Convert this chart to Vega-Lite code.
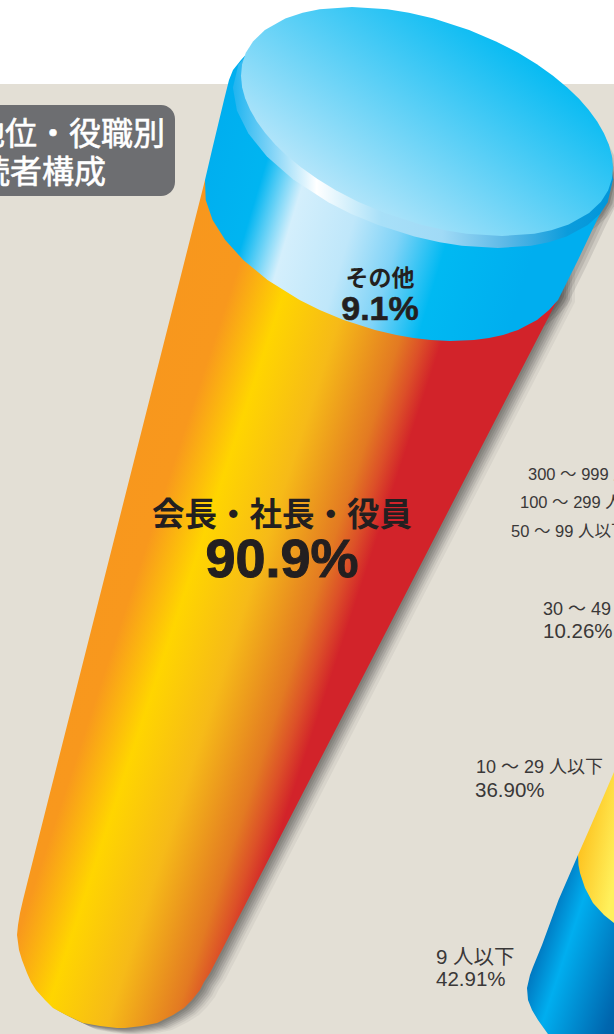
{
"$schema":"https://vega.github.io/schema/vega-lite/v6.json",
"width":614,"height":1034,"padding":0,"autosize":"none","background":"#ffffff",
"config":{"view":{"stroke":null}},
"datasets":{
"ground":[{"x":0,"x2":614,"y":84,"y2":1034}],
"titlebox":[{"x":-30,"x2":175,"y":105,"y2":196}],
"body":[{"y":180,"x":205,"x2":560},{"y":295,"x":176,"x2":560},{"y":400,"x":149.4,"x2":505.7},{"y":600,"x":98.8,"x2":402.5},{"y":800,"x":48.2,"x2":299.3},{"y":880,"x":28,"x2":258},{"y":900,"x":23,"x2":247.7},{"y":913,"x":20,"x2":241},{"y":925,"x":18,"x2":234.8},{"y":935,"x":17,"x2":229.6},{"y":950,"x":19,"x2":222},{"y":960,"x":22,"x2":216.7},{"y":973,"x":27,"x2":210},{"y":982,"x":31,"x2":204},{"y":990,"x":36,"x2":200},{"y":1000,"x":45,"x2":192},{"y":1008,"x":53,"x2":184},{"y":1015,"x":66,"x2":173},{"y":1023,"x":83,"x2":157},{"y":1026,"x":100,"x2":142},{"y":1028,"x":117,"x2":125}],
"band":[{"y":50,"x":250,"x2":480},{"y":60,"x":241,"x2":490},{"y":70,"x":233,"x2":500},{"y":80,"x":229,"x2":530},{"y":100,"x":224,"x2":560},{"y":150,"x":212,"x2":600},{"y":180,"x":205,"x2":612},{"y":200,"x":205.7,"x2":607},{"y":220,"x":212.6,"x2":597},{"y":240,"x":225.2,"x2":587.5},{"y":260,"x":243.3,"x2":578},{"y":280,"x":267.5,"x2":568},{"y":300,"x":299.6,"x2":558},{"y":310,"x":319.7,"x2":549},{"y":320,"x":343.7,"x2":537},{"y":330,"x":375,"x2":518},{"y":335,"x":396.4,"x2":503},{"y":338,"x":413.4,"x2":489},{"y":340,"x":430.9,"x2":474},{"y":341,"x":450,"x2":450}],
"rim":[{"y":19,"x":348,"x2":348},{"y":30.5,"x":279.4,"x2":431.6},{"y":41.9,"x":258.2,"x2":467.8},{"y":64.8,"x":238.3,"x2":517.7},{"y":87.7,"x":232.9,"x2":553.1},{"y":110.6,"x":236.9,"x2":579.1},{"y":133.5,"x":248.4,"x2":597.6},{"y":156.4,"x":266.9,"x2":609.1},{"y":179.3,"x":292.9,"x2":613.1},{"y":202.2,"x":328.3,"x2":607.7},{"y":213.7,"x":350.8,"x2":600.2},{"y":225.1,"x":378.2,"x2":587.8},{"y":236.6,"x":414.4,"x2":566.6},{"y":242.3,"x":439.8,"x2":548.8},{"y":245.7,"x":461.8,"x2":531.2},{"y":248,"x":498,"x2":498}],
"disc":[{"y":7,"x":352,"x2":352},{"y":9.3,"x":319.6,"x2":387.4},{"y":12.7,"x":302.7,"x2":408.9},{"y":18.5,"x":285.3,"x2":433.7},{"y":29.9,"x":264.9,"x2":469.1},{"y":41.4,"x":253,"x2":496},{"y":52.8,"x":245.8,"x2":518.2},{"y":64.3,"x":242.1,"x2":536.9},{"y":75.7,"x":241,"x2":553},{"y":87.2,"x":242.1,"x2":566.9},{"y":98.6,"x":245.2,"x2":578.8},{"y":110.1,"x":250.2,"x2":588.8},{"y":121.5,"x":256.8,"x2":597.2},{"y":133,"x":265.2,"x2":603.8},{"y":144.4,"x":275.2,"x2":608.8},{"y":155.9,"x":287.1,"x2":611.9},{"y":167.3,"x":301,"x2":613},{"y":178.8,"x":317.1,"x2":611.9},{"y":190.2,"x":335.8,"x2":608.2},{"y":201.7,"x":358,"x2":601},{"y":213.1,"x":384.9,"x2":589.1},{"y":224.6,"x":420.3,"x2":568.7},{"y":230.3,"x":445.2,"x2":551.3},{"y":233.7,"x":466.6,"x2":534.4},{"y":236,"x":502,"x2":502}],
"blue":[{"y":855,"x":578,"x2":614},{"y":900,"x":558.5,"x2":614},{"y":945,"x":542,"x2":614},{"y":967,"x":533,"x2":614},{"y":975,"x":530,"x2":614},{"y":988,"x":527,"x2":614},{"y":1000,"x":528,"x2":614},{"y":1010,"x":532,"x2":614},{"y":1020,"x":538,"x2":614},{"y":1034,"x":548,"x2":614}],
"yellow":[{"y":772,"x":614,"x2":614},{"y":800,"x":602,"x2":614},{"y":830,"x":589,"x2":614},{"y":855,"x":578,"x2":614},{"y":865,"x":578.5,"x2":614},{"y":873,"x":580,"x2":614},{"y":888,"x":585,"x2":614},{"y":903,"x":593,"x2":614},{"y":915,"x":604,"x2":614},{"y":923,"x":614,"x2":614}],
"title1":[{"t":"地位・役職別","x":165,"y":145}],
"title2":[{"t":"読者構成","x":106,"y":183}],
"other":[{"t":"その他","x":380,"y":286}],
"otherPct":[{"t":"9.1%","x":380,"y":320}],
"exec":[{"t":"会長・社長・役員","x":282,"y":526}],
"execPct":[{"t":"90.9%","x":282,"y":577}],
"narrow":[{"t":"300 ～ 999 人以下","x":528,"y":480},{"t":"100 ～ 299 人以下","x":520,"y":508},{"t":"50 ～ 99 人以下","x":511,"y":537}],
"counts":[{"t":"30 ～ 49 人以下","x":543,"y":615},{"t":"10 ～ 29 人以下","x":476,"y":773}],
"plain":[{"t":"10.26%","x":543,"y":638},{"t":"36.90%","x":475,"y":797},{"t":"9 人以下","x":436,"y":964},{"t":"42.91%","x":436,"y":986}]
},
"encoding":{
"x":{"field":"x","type":"quantitative","axis":null,"scale":{"domain":[0,614],"nice":false,"zero":false}},
"y":{"field":"y","type":"quantitative","axis":null,"scale":{"domain":[1034,0],"nice":false,"zero":false}}
},
"layer":[
{"data":{"name":"ground"},"mark":{"type":"rect","color":"#E3DFD5","clip":true},"encoding":{"x2":{"field":"x2"},"y2":{"field":"y2"}}},
{"data":{"name":"rim"},"mark":{"type":"area","orient":"horizontal","color":"#333333","opacity":0.12,"xOffset":2,"x2Offset":2,"yOffset":1,"clip":true},"encoding":{"x2":{"field":"x2"}}},
{"data":{"name":"rim"},"mark":{"type":"area","orient":"horizontal","color":"#333333","opacity":0.12,"xOffset":4,"x2Offset":4,"yOffset":2,"clip":true},"encoding":{"x2":{"field":"x2"}}},
{"data":{"name":"rim"},"mark":{"type":"area","orient":"horizontal","color":"#333333","opacity":0.12,"xOffset":7,"x2Offset":7,"yOffset":3,"clip":true},"encoding":{"x2":{"field":"x2"}}},
{"data":{"name":"band"},"mark":{"type":"area","orient":"horizontal","color":"#333333","opacity":0.12,"xOffset":3,"x2Offset":3,"yOffset":2,"clip":true},"encoding":{"x2":{"field":"x2"}}},
{"data":{"name":"band"},"mark":{"type":"area","orient":"horizontal","color":"#333333","opacity":0.12,"xOffset":6,"x2Offset":6,"yOffset":3,"clip":true},"encoding":{"x2":{"field":"x2"}}},
{"data":{"name":"band"},"mark":{"type":"area","orient":"horizontal","color":"#333333","opacity":0.12,"xOffset":9,"x2Offset":9,"yOffset":5,"clip":true},"encoding":{"x2":{"field":"x2"}}},
{"data":{"name":"body"},"mark":{"type":"area","orient":"horizontal","color":"#333333","opacity":0.13,"xOffset":2,"x2Offset":2,"yOffset":1,"clip":true},"encoding":{"x2":{"field":"x2"}}},
{"data":{"name":"body"},"mark":{"type":"area","orient":"horizontal","color":"#333333","opacity":0.13,"xOffset":4,"x2Offset":4,"yOffset":2,"clip":true},"encoding":{"x2":{"field":"x2"}}},
{"data":{"name":"body"},"mark":{"type":"area","orient":"horizontal","color":"#333333","opacity":0.13,"xOffset":6,"x2Offset":6,"yOffset":3,"clip":true},"encoding":{"x2":{"field":"x2"}}},
{"data":{"name":"body"},"mark":{"type":"area","orient":"horizontal","color":"#333333","opacity":0.12,"xOffset":8,"x2Offset":8,"yOffset":4,"clip":true},"encoding":{"x2":{"field":"x2"}}},
{"data":{"name":"body"},"mark":{"type":"area","orient":"horizontal","color":"#333333","opacity":0.1,"xOffset":10,"x2Offset":10,"yOffset":5,"clip":true},"encoding":{"x2":{"field":"x2"}}},
{"data":{"name":"body"},"mark":{"type":"area","orient":"horizontal","color":"#333333","opacity":0.08,"xOffset":12,"x2Offset":12,"yOffset":6,"clip":true},"encoding":{"x2":{"field":"x2"}}},
{"data":{"name":"body"},"mark":{"type":"area","orient":"horizontal","color":"#333333","opacity":0.06,"xOffset":15,"x2Offset":15,"yOffset":7,"clip":true},"encoding":{"x2":{"field":"x2"}}},
{"data":{"name":"body"},"mark":{"type":"area","orient":"horizontal","clip":true,"color":{"gradient":"linear","x1":0,"y1":0,"x2":0.79,"y2":0.407,"stops":[{"offset":0,"color":"#F7941D"},{"offset":0.46,"color":"#F8981D"},{"offset":0.56,"color":"#FFD500"},{"offset":0.679,"color":"#F6BA18"},{"offset":0.802,"color":"#E37A22"},{"offset":0.843,"color":"#DC5028"},{"offset":0.881,"color":"#D2232A"},{"offset":1,"color":"#D2232A"}]}},"encoding":{"x2":{"field":"x2"}}},
{"data":{"name":"band"},"mark":{"type":"area","orient":"horizontal","clip":true,"color":{"gradient":"linear","x1":0,"y1":0,"x2":0.956,"y2":0.2055,"stops":[{"offset":0.074,"color":"#00AEEF"},{"offset":0.233,"color":"#00B5F1"},{"offset":0.339,"color":"#D4EFFC"},{"offset":0.491,"color":"#BFE7FA"},{"offset":0.613,"color":"#7FD3F7"},{"offset":0.736,"color":"#00B9F2"},{"offset":0.956,"color":"#00AEEF"}]}},"encoding":{"x2":{"field":"x2"}}},
{"data":{"name":"rim"},"mark":{"type":"area","orient":"horizontal","clip":true,"color":{"gradient":"linear","x1":0,"y1":0,"x2":1,"y2":0,"stops":[{"offset":0,"color":"#1EB4F0"},{"offset":0.1,"color":"#7FD3F7"},{"offset":0.22,"color":"#FFFFFF"},{"offset":0.39,"color":"#A8E0F8"},{"offset":0.55,"color":"#A0DAF6"},{"offset":0.72,"color":"#5BB8E6"},{"offset":0.88,"color":"#0B9CDC"},{"offset":1,"color":"#0095D9"}]}},"encoding":{"x2":{"field":"x2"}}},
{"data":{"name":"disc"},"mark":{"type":"area","orient":"horizontal","clip":true,"color":{"gradient":"linear","x1":0.8,"y1":0.2,"x2":0.1,"y2":0.8,"stops":[{"offset":0,"color":"#00B9F2"},{"offset":1,"color":"#CBEBFB"}]}},"encoding":{"x2":{"field":"x2"}}},
{"data":{"name":"blue"},"mark":{"type":"area","orient":"horizontal","color":"#333333","opacity":0.15,"xOffset":2,"x2Offset":2,"yOffset":3,"clip":true},"encoding":{"x2":{"field":"x2"}}},
{"data":{"name":"blue"},"mark":{"type":"area","orient":"horizontal","clip":true,"color":{"gradient":"linear","x1":0,"y1":0,"x2":1.368,"y2":0.93,"stops":[{"offset":0,"color":"#0072BC"},{"offset":0.247,"color":"#0079C1"},{"offset":0.408,"color":"#00AEEF"},{"offset":0.787,"color":"#0066AE"},{"offset":1,"color":"#00569B"}]}},"encoding":{"x2":{"field":"x2"}}},
{"data":{"name":"yellow"},"mark":{"type":"area","orient":"horizontal","clip":true,"color":{"gradient":"linear","x1":0,"y1":0.2,"x2":0.9,"y2":0.85,"stops":[{"offset":0,"color":"#FDB913"},{"offset":1,"color":"#FFF15C"}]}},"encoding":{"x2":{"field":"x2"}}},
{"data":{"name":"titlebox"},"mark":{"type":"rect","color":"#6D6E71","cornerRadius":14,"clip":true},"encoding":{"x2":{"field":"x2"},"y2":{"field":"y2"}}},
{"data":{"name":"title1"},"mark":{"type":"text","align":"right","baseline":"alphabetic","font":"Noto Sans CJK JP","fontSize":32,"color":"#FFFFFF","stroke":"#FFFFFF","strokeWidth":0.6},"encoding":{"text":{"field":"t"}}},
{"data":{"name":"title2"},"mark":{"type":"text","align":"right","baseline":"alphabetic","font":"Noto Sans CJK JP","fontSize":32,"color":"#FFFFFF","stroke":"#FFFFFF","strokeWidth":0.6},"encoding":{"text":{"field":"t"}}},
{"data":{"name":"other"},"mark":{"type":"text","align":"center","baseline":"alphabetic","font":"Noto Sans CJK JP","fontWeight":700,"fontSize":23,"color":"#231F20"},"encoding":{"text":{"field":"t"}}},
{"data":{"name":"otherPct"},"mark":{"type":"text","align":"center","baseline":"alphabetic","font":"Liberation Sans","fontWeight":700,"fontSize":34,"color":"#231F20","stroke":"#231F20","strokeWidth":0.6},"encoding":{"text":{"field":"t"}}},
{"data":{"name":"exec"},"mark":{"type":"text","align":"center","baseline":"alphabetic","font":"Noto Sans CJK JP","fontWeight":700,"fontSize":32.5,"color":"#231F20"},"encoding":{"text":{"field":"t"}}},
{"data":{"name":"execPct"},"mark":{"type":"text","align":"center","baseline":"alphabetic","font":"Liberation Sans","fontWeight":700,"fontSize":54,"color":"#231F20","stroke":"#231F20","strokeWidth":1},"encoding":{"text":{"field":"t"}}},
{"data":{"name":"narrow"},"mark":{"type":"text","align":"left","baseline":"alphabetic","font":"Liberation Sans, Noto Sans CJK JP","fontSize":16.5,"color":"#3A3838"},"encoding":{"text":{"field":"t"}}},
{"data":{"name":"counts"},"mark":{"type":"text","align":"left","baseline":"alphabetic","font":"Liberation Sans, Noto Sans CJK JP","fontSize":18,"color":"#3A3838"},"encoding":{"text":{"field":"t"}}},
{"data":{"name":"plain"},"mark":{"type":"text","align":"left","baseline":"alphabetic","font":"Liberation Sans, Noto Sans CJK JP","fontSize":20.5,"color":"#3A3838"},"encoding":{"text":{"field":"t"}}}
]
}
